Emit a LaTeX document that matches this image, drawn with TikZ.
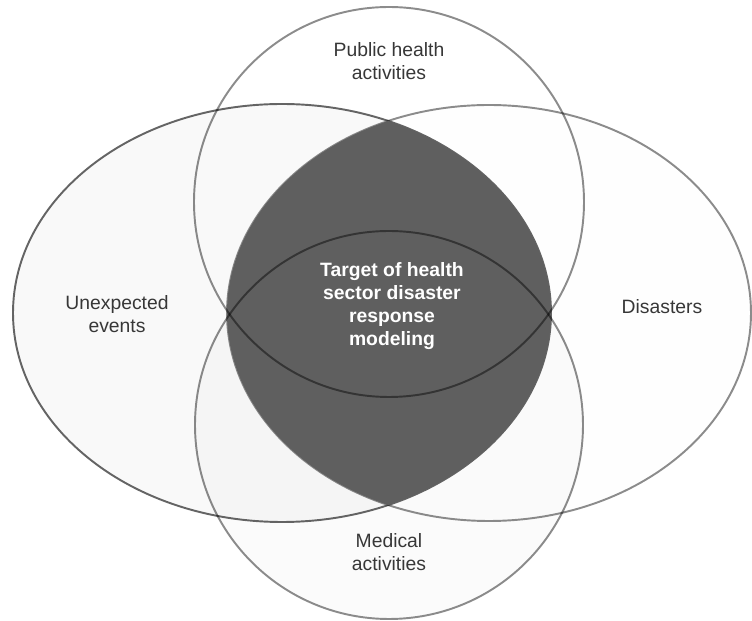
\documentclass[tikz,border=0pt]{standalone}
\usepackage{fontspec}
\setmainfont{Liberation Sans}
\usepackage{xcolor}
\usepackage{tikz}
\usetikzlibrary{positioning}
\definecolor{lensgray}{RGB}{95,95,95}
\definecolor{labelgray}{RGB}{55,55,55}
\definecolor{paleleft}{RGB}{249,249,249}
\definecolor{paleright}{RGB}{254,254,254}

\begin{document}
\begin{tikzpicture}[
    x=0.02cm, y=-0.02cm,
    every node/.style={font=\fontsize{11}{13.1}\selectfont, align=center},
    outline/.style={draw=black, draw opacity=0.45, line width=1.1pt},
    label/.style={text=labelgray}
]
\useasboundingbox (0,0) rectangle (752,621);

% Ellipses
\fill[paleleft] (282,313) ellipse [x radius=269, y radius=209];
\fill[paleright] (489,313) ellipse [x radius=262, y radius=208];
\fill[black, opacity=0.015] (389,425) circle [radius=194];
\draw[outline, draw opacity=0.6] (282,313) ellipse [x radius=269, y radius=209];
\draw[outline] (489,313) ellipse [x radius=262, y radius=208];

% Overlap of the two ellipses
\begin{scope}
    \clip (282,313) ellipse [x radius=269, y radius=209];
    \fill[lensgray] (489,313) ellipse [x radius=262, y radius=208];
\end{scope}

% Circles
\draw[outline] (389,202) circle [radius=195];
\draw[outline] (389,425) circle [radius=194];

% Labels
\node[label] (public) at (389,61) {Public health\\activities};
\node[label] (medical) at (389,552) {Medical\\activities};
\node[label] (unexpected) at (117,314) {Unexpected\\events};
\node[label] (disasters) at (662,307) {Disasters};
\node[text=white, font=\fontsize{11}{13.1}\selectfont\bfseries] (target) at (392,306) {Target of health\\sector disaster\\response\\modeling};

\end{tikzpicture}
\end{document}
